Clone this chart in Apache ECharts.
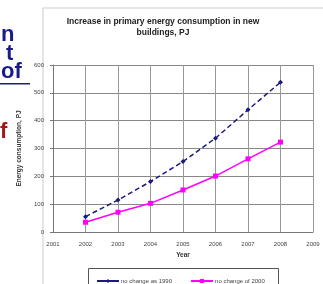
<!DOCTYPE html>
<html>
<head>
<meta charset="utf-8">
<script src="https://cdn.jsdelivr.net/npm/echarts@6/dist/echarts.min.js"></script>
<style>
  html, body { margin: 0; padding: 0; background: #fff; }
  #chart { width: 323px; height: 284px; }
</style>
</head>
<body>
<div id="chart"></div>
<script>
const years = [2002, 2003, 2004, 2005, 2006, 2007, 2008]
const asIn1990 = [55, 115, 181, 253, 337, 439, 538]
const from2000 = [35, 71, 103, 151, 201, 263, 323]
const seriesNames = ['no change as 1990', 'no change of 2000']

const chart = echarts.init(document.getElementById('chart'))
const axisText = { color: '#444', fontSize: 6, fontFamily: 'Liberation Sans' }

chart.setOption({
  animation: false,
  title: {
    text: 'Increase in primary energy consumption in new\nbuildings, PJ',
    left: 158,
    top: 11,
    textAlign: 'center',
    textStyle: { fontSize: 8.5, fontWeight: 'bold', color: '#222', lineHeight: 11, fontFamily: 'Liberation Sans' }
  },
  graphic: [
    { type: 'rect', z: -1, shape: { x: 43, y: 8, width: 290, height: 300 }, style: { fill: 'none', stroke: '#ccc', lineWidth: 1 } },
    { type: 'rect', z: -1, shape: { x: 88.5, y: 268.5, width: 190, height: 30 }, style: { fill: 'none', stroke: '#555', lineWidth: 1 } },
    { type: 'text', left: 1, top: 24, style: { text: 'n', fill: '#1a1a8c', font: 'bold 22px Liberation Sans' } },
    { type: 'text', left: 6, top: 43, style: { text: 't', fill: '#1a1a8c', font: 'bold 22px Liberation Sans' } },
    { type: 'text', left: 1, top: 61, style: { text: 'of', fill: '#1a1a8c', font: 'bold 22px Liberation Sans' } },
    { type: 'rect', shape: { x: 0, y: 83, width: 30, height: 1.5 }, style: { fill: '#1a1a8c' } },
    { type: 'text', left: 0, top: 121, style: { text: 'f', fill: '#a01818', font: 'bold 22px Liberation Sans' } }
  ],
  legend: {
    left: 96,
    top: 278,
    padding: 0,
    itemGap: 18,
    itemWidth: 22,
    itemHeight: 5,
    lineStyle: { type: 'solid' },
    textStyle: { fontSize: 6, color: '#444', fontFamily: 'Liberation Sans', padding: [0, 0, 0, -3] },
    data: seriesNames
  },
  grid: { left: 53, right: 10, top: 65, bottom: 52 },
  xAxis: {
    type: 'value',
    min: 2001,
    max: 2009,
    interval: 1,
    name: 'Year',
    nameLocation: 'middle',
    nameGap: 19,
    nameTextStyle: { fontSize: 6.5, fontWeight: 'bold', color: '#333', fontFamily: 'Liberation Sans' },
    axisLine: { lineStyle: { color: '#777' } },
    axisTick: { show: false },
    axisLabel: Object.assign({ margin: 9, formatter: v => String(v) }, axisText),
    splitLine: { show: true, lineStyle: { color: '#999' } }
  },
  yAxis: {
    type: 'value',
    min: 0,
    max: 600,
    interval: 100,
    name: 'Energy consumption, PJ',
    nameLocation: 'middle',
    nameGap: 24,
    nameTextStyle: { fontSize: 6.5, fontWeight: 'bold', color: '#333', fontFamily: 'Liberation Sans' },
    axisLine: { show: true, lineStyle: { color: '#777' } },
    axisTick: { show: true, length: 3, lineStyle: { color: '#777' } },
    axisLabel: Object.assign({ margin: 9 }, axisText),
    splitLine: { show: true, lineStyle: { color: '#888' } }
  },
  series: [
    {
      name: seriesNames[0],
      type: 'line',
      data: years.map((y, i) => [y, asIn1990[i]]),
      symbol: 'diamond',
      symbolSize: 5,
      lineStyle: { color: '#1a1a80', width: 1.5, type: [5, 3] },
      itemStyle: { color: '#1a1a80' }
    },
    {
      name: seriesNames[1],
      type: 'line',
      data: years.map((y, i) => [y, from2000[i]]),
      symbol: 'rect',
      symbolSize: 5,
      lineStyle: { color: '#ff00ff', width: 1.5 },
      itemStyle: { color: '#ff00ff' }
    }
  ]
})
</script>
</body>
</html>
